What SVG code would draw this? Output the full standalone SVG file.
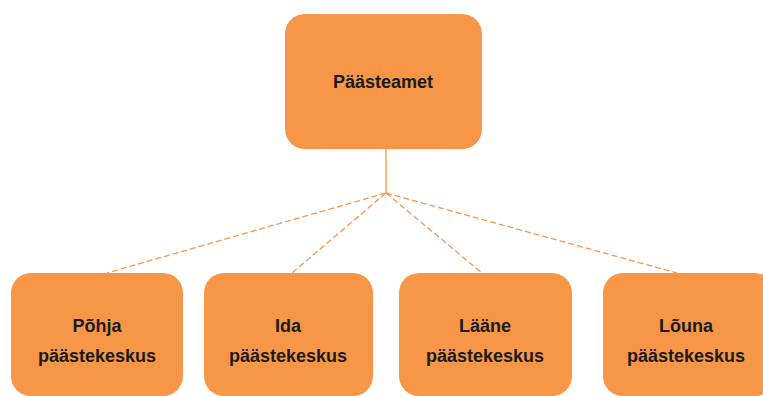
<svg xmlns="http://www.w3.org/2000/svg" width="763" height="396" viewBox="0 0 763 396">
<style>
.box{fill:#F79646;}
.lbl{font-family:"Liberation Sans",Arial,sans-serif;font-weight:bold;font-size:18px;fill:#1a1a1a;text-anchor:middle;}
.con{stroke:#F79646;stroke-width:1.3;fill:none;}
.dash{stroke-dasharray:6 3;}
</style>
<rect width="763" height="396" fill="#ffffff"/>
<g id="connectors">
<line class="con" x1="386" y1="149" x2="386" y2="193"/>
<line class="con dash" x1="386" y1="193" x2="107" y2="273"/>
<line class="con dash" x1="386" y1="193" x2="292" y2="273"/>
<line class="con dash" x1="386" y1="193" x2="482" y2="273"/>
<line class="con dash" x1="386" y1="193" x2="677" y2="273"/>
</g>
<g id="paasteamet">
<rect class="box" x="285" y="14" width="197" height="135" rx="20"/>
<text class="lbl" x="383" y="88">Päästeamet</text>
</g>
<g id="pohja">
<rect class="box" x="11" y="273" width="172" height="123" rx="20"/>
<text class="lbl" x="97" y="332">Põhja</text>
<text class="lbl" x="97" y="362">päästekeskus</text>
</g>
<g id="ida">
<rect class="box" x="204" y="273" width="169" height="123" rx="20"/>
<text class="lbl" x="288" y="332">Ida</text>
<text class="lbl" x="288" y="362">päästekeskus</text>
</g>
<g id="laane">
<rect class="box" x="399" y="273" width="173" height="123" rx="20"/>
<text class="lbl" x="485" y="332">Lääne</text>
<text class="lbl" x="485" y="362">päästekeskus</text>
</g>
<g id="louna">
<rect class="box" x="603" y="273" width="172" height="123" rx="20"/>
<text class="lbl" x="686" y="332">Lõuna</text>
<text class="lbl" x="686" y="362">päästekeskus</text>
</g>
</svg>
